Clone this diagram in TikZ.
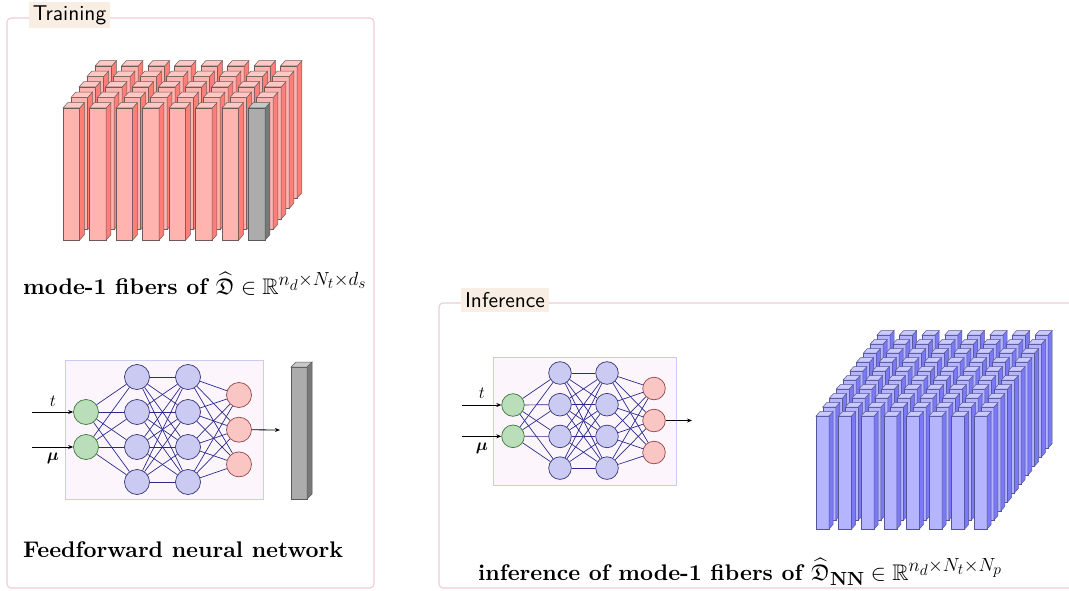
\RequirePackage{fix-cm}
\documentclass[tikz,border=0pt]{standalone}
\usepackage{fontspec}
\setmainfont{lmroman10-regular.otf}[BoldFont=lmroman10-bold.otf,
  ItalicFont=lmroman10-italic.otf, BoldItalicFont=lmroman10-bolditalic.otf]
\setsansfont{lmsans10-regular.otf}[BoldFont=lmsans10-bold.otf]
\usepackage{amsmath,amssymb}
\usepackage{bm}
\usetikzlibrary{arrows.meta}

% scalable Fraktur at any size
\DeclareFontFamily{U}{euf}{}
\DeclareFontShape{U}{euf}{m}{n}{<-6>eufm5<6-8>eufm7<8->eufm10}{}
\DeclareFontShape{U}{euf}{b}{n}{<-6>eufb5<6-8>eufb7<8->eufb10}{}
% large scripts in the captions
\DeclareMathSizes{22.6}{22.6}{19}{15.5}

% palette
\definecolor{panelline}{RGB}{236,204,218}
\definecolor{tagfill}{RGB}{249,238,228}
\definecolor{boxfill}{RGB}{252,246,252}
\definecolor{boxline}{RGB}{200,204,242}
\definecolor{ingreen}{RGB}{186,222,186}
\definecolor{ingreenline}{RGB}{60,120,60}
\definecolor{hidblue}{RGB}{202,202,242}
\definecolor{hidblueline}{RGB}{55,55,120}
\definecolor{outred}{RGB}{250,198,196}
\definecolor{outredline}{RGB}{150,72,72}
\definecolor{edgeblue}{RGB}{42,42,140}
\definecolor{redfront}{RGB}{255,180,176}
\definecolor{redside}{RGB}{255,126,120}
\definecolor{redtop}{RGB}{255,200,196}
\definecolor{redline}{RGB}{110,90,90}
\definecolor{grayfront}{RGB}{172,172,172}
\definecolor{grayside}{RGB}{120,120,120}
\definecolor{graytop}{RGB}{200,200,200}
\definecolor{grayline}{RGB}{90,90,90}
\definecolor{bluefront}{RGB}{180,180,255}
\definecolor{blueside}{RGB}{122,122,244}
\definecolor{bluetop}{RGB}{202,202,255}
\definecolor{blueline}{RGB}{85,85,150}

\tikzset{
  neuron/.style={circle, draw, line width=0.7pt, inner sep=0pt},
  innode/.style={neuron, fill=ingreen, draw=ingreenline},
  hidnode/.style={neuron, fill=hidblue, draw=hidblueline},
  outnode/.style={neuron, fill=outred, draw=outredline},
  nnedge/.style={draw=edgeblue, line width=0.7pt},
  nnbox/.style={draw=boxline, fill=boxfill, line width=0.8pt, inner sep=0pt},
  feed/.style={-{Stealth[length=5pt,width=4pt]}, line width=0.8pt},
  panel/.style={draw=panelline, line width=1.1pt, rounded corners=4pt},
  paneltag/.style={fill=tagfill, inner sep=0pt,
    font=\fontsize{21.4}{24}\selectfont\sffamily},
  caption/.style={anchor=base west, inner sep=0pt,
    font=\fontsize{22.6}{26}\selectfont\bfseries},
  varlabel/.style={inner sep=0pt, font=\fontsize{17}{20}\selectfont},
  fibface/.style={line width=0.5pt},
}

% one fibre drawn as a box: x, y (lower left of front face), width, height,
% depth offset dx, dy, then the prefix of its colour set and the outline colour
\newcommand{\fiberbar}[8]{%
  \filldraw[fibface, draw=#8, fill=#7front]
    (#1,#2) -- ++(#3,0) -- ++(0,-#4) -- ++(-#3,0) -- cycle;
  \filldraw[fibface, draw=#8, fill=#7side]
    ({#1+#3},#2) -- ++(#5,#6) -- ++(0,-#4) -- ++(-#5,-#6) -- cycle;
  \filldraw[fibface, draw=#8, fill=#7top]
    (#1,{#2-#4}) -- ++(#3,0) -- ++(#5,#6) -- ++(-#3,0) -- cycle;
}

\begin{document}
\begin{tikzpicture}[x=1pt,y=-1pt]
\useasboundingbox (0,0) rectangle (1069,591);

% ---------------- training panel ----------------
\draw[panel] (7,18) rectangle (374,588);
\node[paneltag, minimum width=81pt, minimum height=26pt] (tagA) at (69.5,15) {Training};

% stack of mode-1 fibres, back row first; the front corner one is grey
\foreach \r in {4,3,2,1,0} {
  \foreach \c in {0,...,7} {
    \pgfmathsetmacro\px{63+26.5*\c+8*\r}
    \pgfmathsetmacro\py{240-10.5*\r}
    \ifnum\r=0 \ifnum\c=7
      \def\cset{gray}\def\cl{grayline}
    \else
      \def\cset{red}\def\cl{redline}
    \fi\else
      \def\cset{red}\def\cl{redline}
    \fi
    \fiberbar{\px}{\py}{16.7}{132}{4.7}{-5.3}{\cset}{\cl}
  }
}

\node[caption] (capA) at (23,294)
  {mode-1 fibers of $\widehat{\mathfrak{D}}\in\mathbb{R}^{n_d\times N_t\times d_s}$};

% feedforward network
\node[nnbox, minimum width=198pt, minimum height=139pt] (boxA) at (164,429.5) {};
\foreach \i in {1,2}
  \node[innode, minimum size=25pt] (ai\i) at (86,{412+35*(\i-1)}) {};
\foreach \j in {1,...,4} {
  \node[hidnode, minimum size=25pt] (ah\j) at (137,{377+35*(\j-1)}) {};
  \node[hidnode, minimum size=25pt] (ag\j) at (188,{377+35*(\j-1)}) {};
}
\foreach \k in {1,2,3}
  \node[outnode, minimum size=25pt] (ao\k) at (239,{395+34.7*(\k-1)}) {};
\foreach \i in {1,2}
  \foreach \j in {1,...,4}
    \draw[nnedge] (ai\i) -- (ah\j);
\foreach \i in {1,...,4}
  \foreach \j in {1,...,4}
    \draw[nnedge] (ah\i) -- (ag\j);
\foreach \i in {1,...,4}
  \foreach \k in {1,2,3}
    \draw[nnedge] (ag\i) -- (ao\k);

\coordinate (aint) at (32,412);
\coordinate (ainm) at (32,447);
\coordinate (aout) at (280,430);
\draw[feed] (aint) -- (ai1);
\draw[feed] (ainm) -- (ai2);
\draw[feed] (ao2) -- (aout);
\node[varlabel] (at) at (53,401) {$t$};
\node[varlabel] (am) at (53,458) {$\bm{\mu}$};

% single fibre produced by the network
\fiberbar{291}{499}{16}{132}{5}{-5}{gray}{grayline}

\node[caption] (capB) at (23,557) {Feedforward neural network};

% ---------------- inference panel ----------------
\draw[panel] (439,303) -- (1080,303) -- (1080,588) -- (439,588) -- cycle;
\node[paneltag, minimum width=88pt, minimum height=24pt] (tagB) at (505,300) {Inference};

\node[nnbox, minimum width=183pt, minimum height=128pt] (boxB) at (584.5,421) {};
\foreach \i in {1,2}
  \node[innode, minimum size=22.6pt] (bi\i) at (513,{405+31.3*(\i-1)}) {};
\foreach \j in {1,...,4} {
  \node[hidnode, minimum size=22.6pt] (bh\j) at (560,{373+31.7*(\j-1)}) {};
  \node[hidnode, minimum size=22.6pt] (bg\j) at (607,{373+31.7*(\j-1)}) {};
}
\foreach \k in {1,2,3}
  \node[outnode, minimum size=22.6pt] (bo\k) at (654,{388.5+32*(\k-1)}) {};
\foreach \i in {1,2}
  \foreach \j in {1,...,4}
    \draw[nnedge] (bi\i) -- (bh\j);
\foreach \i in {1,...,4}
  \foreach \j in {1,...,4}
    \draw[nnedge] (bh\i) -- (bg\j);
\foreach \i in {1,...,4}
  \foreach \k in {1,2,3}
    \draw[nnedge] (bg\i) -- (bo\k);

\coordinate (bint) at (462,405);
\coordinate (binm) at (462,436.3);
\coordinate (bout) at (692,420.5);
\draw[feed] (bint) -- (bi1);
\draw[feed] (binm) -- (bi2);
\draw[feed] (bo2) -- (bout);
\node[varlabel] (bt) at (482,393) {$t$};
\node[varlabel] (bm) at (482,448) {$\bm{\mu}$};

% inferred tensor of fibres, back row first
\foreach \r in {9,8,...,0} {
  \foreach \c in {0,...,7} {
    \pgfmathsetmacro\px{816+22.6*\c+6.78*\r}
    \pgfmathsetmacro\py{529-9*\r}
    \fiberbar{\px}{\py}{13}{113}{4}{-4.5}{blue}{blueline}
  }
}

\node[caption] (capC) at (478,580)
  {inference of mode-1 fibers of $\widehat{\mathfrak{D}}_{\mathbf{NN}}\in\mathbb{R}^{n_d\times N_t\times N_p}$};

\end{tikzpicture}
\end{document}
